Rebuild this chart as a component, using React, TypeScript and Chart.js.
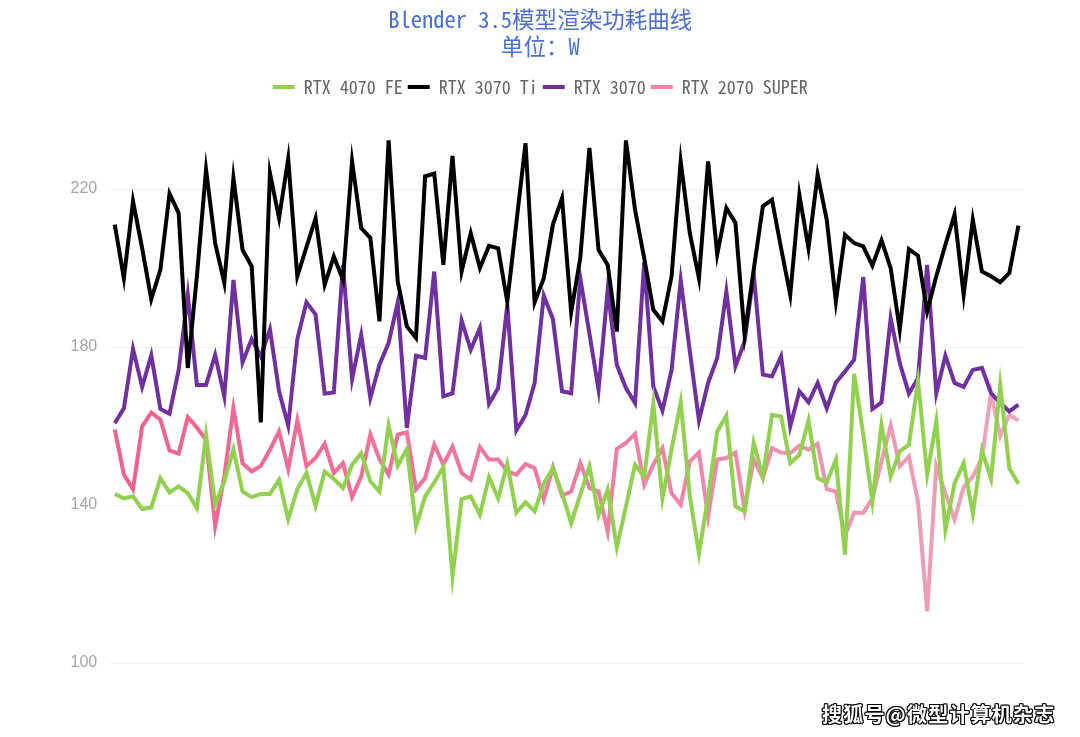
import { useEffect, useRef } from "react";
import { Chart, registerables } from "chart.js";

Chart.register(...registerables);

const titleLines = ["Blender 3.5模型渲染功耗曲线", "单位：W"];
const seriesNames = ["RTX 4070 FE", "RTX 3070 Ti", "RTX 3070", "RTX 2070 SUPER"];
const yTicks = [100, 140, 180, 220];
const watermark = "搜狐号@微型计算机杂志";

const rtx4070FE = [
  142.8, 141.7, 142.2, 139.0, 139.4, 146.8, 143.2, 144.7, 143.0, 139.2, 157.8, 140.2, 146.0, 154.0, 143.4, 142.0, 142.8,
  142.8, 146.4, 136.4, 144.0, 148.1, 139.8, 148.5, 146.6, 144.3, 150.2, 153.1, 146.0, 143.4, 160.1, 149.9, 154.2,
  134.6, 142.2, 145.7, 149.6, 121.9, 141.5, 142.2, 137.5, 147.1, 141.7, 150.4, 138.1, 140.7, 138.4, 145.4, 149.3, 143.0,
  135.4, 142.6, 149.8, 137.5, 143.9, 129.3, 139.6, 150.2, 147.2, 165.6, 141.7, 154.0, 166.0, 142.2, 127.7, 142.0,
  158.6, 162.6, 139.6, 138.4, 155.7, 147.2, 162.8, 162.4, 150.6, 152.7, 161.4, 146.8, 145.7, 151.5, 127.4, 173.2,
  157.8, 140.9, 160.3, 147.2, 153.6, 155.3, 171.3, 147.7, 161.2, 133.7, 145.5, 150.6, 137.8, 153.8, 146.6, 170.4, 149.3, 145.4,
];

const rtx3070Ti = [
  211.0, 197.4, 216.9, 205.0, 192.1, 199.6, 218.8, 213.9, 174.7, 197.9, 224.9, 206.3, 196.2, 222.8, 204.6, 200.4, 160.9,
  224.0, 212.6, 227.6, 197.9, 205.3, 212.6, 195.8, 202.9, 197.0, 227.0, 210.1, 207.6, 186.5, 232.3, 196.6, 185.2,
  182.3, 223.2, 223.9, 200.8, 228.4, 199.1, 208.8, 200.0, 205.6, 205.0, 191.5, 211.5, 231.6, 191.3, 197.4, 211.0, 217.7,
  188.8, 202.5, 230.4, 204.6, 200.8, 183.9, 232.3, 214.7, 202.5, 189.4, 186.5, 197.9, 227.0, 208.8, 197.4, 227.0,
  203.4, 215.2, 211.4, 183.1, 199.6, 215.6, 217.3, 205.0, 193.2, 218.5, 205.0, 223.6, 212.2, 191.5, 208.4, 206.3,
  205.5, 200.6, 207.0, 200.0, 184.4, 204.8, 203.1, 189.0, 197.9, 205.9, 213.5, 193.2, 212.2, 199.1, 197.9, 196.4, 198.7, 210.7,
];

const rtx3070 = [
  160.7, 164.5, 179.5, 169.9, 177.9, 164.3, 163.1, 174.2, 193.2, 170.4, 170.4, 178.0, 167.5, 197.0, 176.1, 182.0, 177.6,
  184.5, 168.8, 160.1, 182.0, 191.3, 188.2, 168.2, 168.5, 200.8, 171.9, 183.1, 167.1, 175.5, 181.0, 191.3, 159.5,
  177.8, 177.2, 199.1, 167.5, 168.3, 186.7, 179.3, 184.8, 165.6, 169.6, 190.7, 158.9, 162.8, 170.9, 193.0, 187.1, 168.8,
  168.3, 197.4, 183.4, 169.2, 194.5, 175.5, 169.6, 165.8, 201.4, 170.0, 163.9, 174.2, 196.9, 178.9, 161.4, 170.9,
  177.2, 194.1, 175.1, 181.4, 198.5, 173.0, 172.6, 177.6, 159.9, 168.8, 166.0, 170.9, 164.5, 171.0, 173.8, 176.8,
  197.7, 164.3, 166.0, 187.3, 175.9, 168.2, 172.1, 200.8, 168.3, 177.8, 170.9, 169.9, 174.2, 174.7, 168.3, 165.8, 163.7, 165.4,
];

const rtx2070Super = [
  159.1, 147.7, 144.0, 159.9, 163.4, 161.6, 153.8, 153.0, 162.3, 159.6, 156.5, 134.7, 147.2, 164.5, 150.6, 148.5, 149.9,
  154.0, 158.6, 149.1, 161.4, 149.9, 151.9, 155.5, 148.1, 150.6, 142.0, 147.2, 157.8, 151.6, 147.7, 157.8, 158.4,
  144.0, 146.8, 155.3, 150.2, 154.8, 148.1, 146.4, 154.7, 151.5, 151.5, 148.5, 147.7, 150.4, 149.3, 141.5, 149.6, 142.4,
  143.4, 150.6, 144.3, 143.4, 133.3, 154.2, 155.7, 158.0, 145.1, 150.2, 154.4, 143.0, 140.1, 151.0, 153.3, 137.1,
  151.5, 151.9, 153.3, 138.8, 151.5, 146.8, 154.4, 153.3, 153.1, 155.0, 154.0, 155.5, 144.0, 143.4, 132.2, 138.1,
  138.0, 141.7, 151.0, 160.1, 149.8, 152.3, 140.7, 113.1, 149.9, 143.0, 136.3, 144.5, 147.2, 151.9, 168.3, 157.5, 162.8, 161.4,
];

const samples = rtx4070FE.map((_, i) => String(i + 1));

const monoFont = '"Noto Sans Mono CJK SC", "Noto Sans CJK SC", "DejaVu Sans Mono", monospace';

// adds a little space under the legend
const legendGapPlugin = {
  id: "legendGap",
  beforeInit(chart: any) {
    const legend = chart.legend;
    if (!legend) return;
    const origFit = legend.fit;
    legend.fit = function () {
      origFit.call(this);
      this.height += 4;
    };
  },
};

export default function App() {
  const ref = useRef<HTMLCanvasElement>(null);

  useEffect(() => {
    const canvas = ref.current;
    if (!canvas) return;

    const pinkGradient = (ctx: any) => {
      const chart = ctx.chart;
      const area = chart.chartArea;
      if (!area) return "#f06890";
      const g = chart.ctx.createLinearGradient(area.left, 0, area.right, 0);
      g.addColorStop(0, "#f2608c");
      g.addColorStop(0.55, "#f07ea2");
      g.addColorStop(1, "#eca6bc");
      return g;
    };

    const common = { borderWidth: 4, pointRadius: 0, pointHoverRadius: 0, tension: 0, fill: false };

    const chart = new Chart(canvas, {
      type: "line",
      data: {
        labels: samples,
        datasets: [
          { label: seriesNames[0], data: rtx4070FE, borderColor: "#92d050", backgroundColor: "#92d050", ...common },
          { label: seriesNames[1], data: rtx3070Ti, borderColor: "#000000", backgroundColor: "#000000", ...common },
          { label: seriesNames[2], data: rtx3070, borderColor: "#7030a0", backgroundColor: "#7030a0", ...common },
          { label: seriesNames[3], data: rtx2070Super, borderColor: pinkGradient, backgroundColor: "#f07ea2", ...common },
        ],
      },
      plugins: [legendGapPlugin],
      options: {
        responsive: false,
        animation: false,
        events: [],
        layout: { padding: { left: 57.5, right: 57, bottom: 74, top: 0 } },
        plugins: {
          title: {
            display: true,
            text: titleLines,
            color: "#4a6fd8",
            font: { family: monoFont, size: 22.5, weight: "normal", lineHeight: 1.2 },
            padding: { top: 6, bottom: 13 },
          },
          legend: {
            display: true,
            position: "top",
            labels: {
              color: "#666666",
              font: { family: monoFont, size: 18 },
              usePointStyle: true,
              pointStyle: "line",
              pointStyleWidth: 22,
              padding: 5,
            },
          },
          tooltip: { enabled: false },
        },
        scales: {
          x: {
            type: "category",
            offset: true,
            display: false,
            grid: { display: false },
          },
          y: {
            min: 100,
            max: 240,
            afterBuildTicks: (axis: any) => {
              axis.ticks = yTicks.map((v) => ({ value: v }));
            },
            border: { display: false },
            grid: { color: "#f0f0f0", drawTicks: false, lineWidth: 1 },
            ticks: {
              color: "#a6a6a6",
              font: { family: '"Liberation Sans", Arial, sans-serif', size: 16 },
              padding: 13,
            },
          },
        },
      },
    });

    return () => chart.destroy();
  }, []);

  return (
    <div style={{ position: "fixed", left: 0, top: 0, width: 1080, height: 737, background: "#ffffff" }}>
      <canvas ref={ref} width={1080} height={737} style={{ display: "block" }} />
      <div
        style={{
          position: "absolute",
          left: 822,
          top: 699,
          fontFamily: '"Noto Sans CJK SC", sans-serif',
          fontWeight: 700,
          fontSize: 20,
          color: "#ffffff",
          letterSpacing: 1.2,
          textShadow:
            "1px 1px 0 #000, -1px -1px 0 #000, 1px -1px 0 #000, -1px 1px 0 #000, 0 1px 0 #000, 1px 0 0 #000, 0 -1px 0 #000, -1px 0 0 #000",
          whiteSpace: "nowrap",
        }}
      >
        {watermark}
      </div>
    </div>
  );
}
